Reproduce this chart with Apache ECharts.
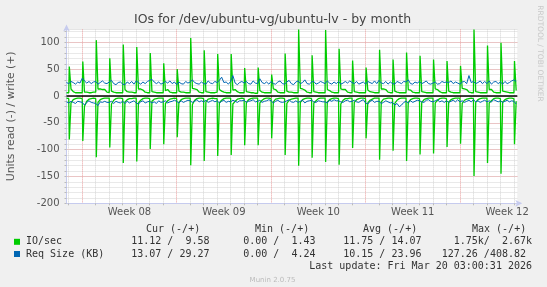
<!DOCTYPE html>
<html><head><meta charset="utf-8">
<script src="https://cdn.jsdelivr.net/npm/echarts@6/dist/echarts.min.js"></script>
<style>html,body{margin:0;padding:0;background:#f0f0f0}#c{width:547px;height:287px}</style>
</head><body><div id="c"></div>
<script>
// Hours relative to Mon 16 Mar 2026 00:00 (start of Week 12)
const hourMin = -700, hourMax = 102;
const sampleStart = -700, sampleStep = 4;
const spikeStart = -695, spikeStep = 24;
const weekLabels = ['Week 08', 'Week 09', 'Week 10', 'Week 11', 'Week 12'];
const weekLabelFirstHour = -588;
const yMin = -200, yMax = 124;

// IO/sec write (+), 4-hour samples
const ioWrite = [6,
 6,13,8,6,6,6, 6,7,7,6,6,7, 7,13,13,12,12,7, 6,9,7,6,6,6, 6,12,8,7,7,6, 6,13,13,11,7,6, 6,8,7,6,6,6,
 6,10,12,7,6,6, 6,9,7,7,6,6, 6,14,13,12,7,6, 6,8,7,6,6,6, 7,12,9,7,6,6, 6,11,12,8,6,6, 6,8,7,6,6,5,
 5,10,7,6,6,6, 6,13,12,7,6,6, 6,9,7,7,6,6, 6,14,13,11,7,6, 6,8,7,6,6,6, 6,12,10,7,6,6, 6,13,12,12,7,6,
 6,8,7,6,6,6, 6,11,8,7,6,6, 6,13,13,12,7,6, 6,9,7,6,6,6, 6,12,11,7,6,6, 6,8,7,6,6,6, 6,13,12,8,6,6,
 6,9,7,6,6,6, 6,14,13,12,7,6, 6,8,7,6,6,6, 6,12,12,7,6,6, 6,9,8,7,6,6,
 6,10];
// IO/sec read (-), 4-hour samples
const ioRead = [-4,
 -5,-13,-7,-5,-4,-4, -5,-19,-10,-6,-5,-4, -5,-12,-7,-5,-4,-4, -4,-15,-8,-5,-4,-4, -5,-11,-7,-5,-5,-4, -4,-13,-8,-5,-4,-4, -5,-10,-6,-5,-4,-4,
 -4,-14,-9,-6,-5,-4, -5,-12,-7,-5,-4,-4, -4,-16,-8,-5,-4,-4, -5,-11,-6,-5,-4,-5, -5,-13,-8,-5,-4,-4, -4,-15,-10,-6,-5,-4, -5,-12,-7,-5,-4,-4,
 -4,-13,-8,-5,-4,-4, -5,-11,-6,-5,-4,-4, -5,-14,-8,-6,-5,-4, -4,-12,-7,-5,-4,-4, -5,-13,-9,-5,-4,-4, -4,-11,-7,-5,-4,-4, -5,-15,-8,-5,-5,-4,
 -4,-12,-7,-5,-4,-4, -5,-13,-8,-6,-4,-4, -4,-11,-6,-5,-4,-4, -5,-14,-8,-5,-4,-4, -4,-12,-7,-5,-4,-4, -5,-12,-7,-5,-4,-4, -4,-13,-8,-5,-4,-4,
 -5,-11,-7,-5,-4,-4, -4,-14,-8,-6,-5,-4, -5,-12,-7,-5,-4,-4, -4,-13,-9,-5,-4,-4, -5,-11,-7,-5,-4,-4,
 -5,-10];
// daily IO/sec peaks (one per day, ~01:00)
const ioWriteSpikes = [55,64,104,70,96,91,80,61,50,108,85,78,78,52,53,40,79,124,76,123,88,66,53,86,68,81,75,68,65,56,124,94,99,65];
const ioReadSpikes = [-81,-84,-114,-96,-125,-122,-99,-90,-77,-129,-121,-112,-110,-92,-92,-79,-110,-130,-115,-123,-128,-97,-79,-119,-102,-121,-109,-107,-95,-89,-149,-125,-145,-90];
// Req Size (KB) write (+), 4-hour samples
const reqWrite = [25,
 23,27,25,22,26,24, 33,28,24,27,23,26, 27,22,25,28,24,23, 26,29,23,21,25,26, 22,21,26,23,27,22, 28,25,22,26,23,27, 29,31,26,23,26,22,
 24,27,24,28,23,26, 21,26,23,22,27,24, 26,30,25,23,22,26, 23,22,28,24,23,27, 25,29,35,25,26,22, 27,38,24,21,25,27, 24,27,23,22,28,24,
 23,32,25,23,26,22, 27,23,22,26,28,23, 22,26,29,23,21,26, 28,23,25,30,23,22, 26,27,22,24,27,25, 23,28,24,22,26,23, 27,22,24,27,24,28,
 25,23,27,22,24,26, 22,27,25,23,28,23, 29,24,23,27,22,26, 23,22,27,25,23,27, 26,30,23,22,26,24, 27,23,25,28,23,22, 24,26,22,23,27,25,
 26,25,28,23,26,24, 22,26,27,23,38,25, 27,23,25,28,23,27, 23,28,22,26,27,23, 26,22,27,23,25,28,
 30,27];
// Req Size (KB) read (-), 4-hour samples
const reqRead = [-11,
 -13,-10,-12,-14,-10,-11, -12,-17,-12,-9,-12,-13, -14,-18,-11,-12,-10,-12, -12,-10,-14,-10,-12,-13, -10,-14,-10,-13,-11,-9, -13,-15,-11,-9,-13,-11, -10,-13,-11,-14,-9,-12,
 -11,-9,-13,-11,-10,-8, -10,-13,-9,-12,-10,-8, -9,-12,-10,-7,-11,-9, -11,-8,-12,-10,-8,-11, -9,-13,-10,-8,-12,-10, -11,-8,-10,-12,-9,-9, -8,-12,-10,-9,-7,-11,
 -10,-8,-12,-10,-9,-7, -9,-13,-10,-8,-11,-12, -11,-9,-7,-11,-12,-9, -12,-10,-8,-13,-10,-9, -8,-11,-12,-9,-10,-11, -11,-13,-8,-10,-7,-9, -9,-11,-12,-9,-8,-11,
 -10,-8,-11,-12,-9,-7, -13,-15,-10,-8,-12,-10, -10,-14,-12,-9,-11,-13, -12,-17,-14,-20,-17,-12, -10,-13,-9,-12,-10,-8, -9,-11,-12,-8,-7,-10, -11,-9,-7,-11,-9,-12,
 -9,-12,-10,-8,-11,-7, -11,-9,-12,-10,-8,-11, -7,-11,-9,-12,-10,-8, -11,-9,-11,-7,-9,-11, -9,-12,-10,-8,-11,-9,
 -10,-15];

// legend statistics
const legendNames = ['IO/sec', 'Req Size (KB)'];
const legendColors = ['#00cc00', '#0066b3'];
const statHeaders = ['Cur (-/+)', 'Min (-/+)', 'Avg (-/+)', 'Max (-/+)'];
const statCur = ['11.12 /  9.58', '13.07 / 29.27'];
const statMin = ['0.00 /  1.43', '0.00 /  4.24'];
const statAvg = ['11.75 / 14.07', '10.15 / 23.96'];
const statMax = ['1.75k/  2.67k', '127.26 /408.82'];
const titleText = 'IOs for /dev/ubuntu-vg/ubuntu-lv - by month';
const yAxisTitle = 'Units read (-) / write (+)';
const lastUpdate = 'Last update: Fri Mar 20 03:00:31 2026';
const versionText = 'Munin 2.0.75';
const watermark = 'RRDTOOL / TOBI OETIKER';

function build(base, spikes) {
  const pts = base.map((v, i) => [sampleStart + i * sampleStep, v]);
  if (spikes) spikes.forEach((v, k) => pts.push([spikeStart + k * spikeStep, v]));
  pts.sort((a, b) => a[0] - b[0]);
  return pts;
}
const cats = [];
for (let h = hourMin; h <= hourMax; h++) cats.push(String(h));
const mod = (a, m) => ((a % m) + m) % m;

const MINOR = '#d2d2d2', MAJOR = '#eaa0a0', AXIS = '#c6cbee';
const F = '"DejaVu Sans", sans-serif', MONO = '"DejaVu Sans Mono", monospace';

const graphics = [
  {type:'text', x:272.5, y:20, style:{text:titleText, font:'12.5px ' + F, fill:'#444', align:'center', verticalAlign:'middle'}},
  {type:'text', x:540, y:53.5, rotation:-Math.PI/2, style:{text:watermark, font:'7.5px ' + F, fill:'#c8c8c8', align:'center', verticalAlign:'middle'}},
  {type:'text', x:532, y:266.2, style:{text:lastUpdate, font:'10px ' + MONO, fill:'#333', align:'right', verticalAlign:'middle'}},
  {type:'text', x:272.5, y:280, style:{text:versionText, font:'7px ' + F, fill:'#bbb', align:'center', verticalAlign:'middle'}}
];
const headerX = [146, 255, 363, 472];
statHeaders.forEach((t, i) => graphics.push({type:'text', x:headerX[i], y:229, style:{text:t, font:'10px ' + MONO, fill:'#333', align:'left', verticalAlign:'middle'}}));
const rowY = [241.8, 254];
legendNames.forEach((n, r) => {
  graphics.push({type:'rect', shape:{x:14, y:rowY[r]-3, width:6, height:6}, style:{fill:legendColors[r]}});
  graphics.push({type:'text', x:26, y:rowY[r], style:{text:n, font:'10px ' + MONO, fill:'#333', align:'left', verticalAlign:'middle'}});
  const cols = [[statCur[r], 209.5], [statMin[r], 315.5], [statAvg[r], 421.5], [statMax[r], r === 0 ? 532 : 526]];
  cols.forEach(c => graphics.push({type:'text', x:c[1], y:rowY[r], style:{text:c[0], font:'10px ' + MONO, fill:'#333', align:'right', verticalAlign:'middle'}}));
});

const lineSeries = (name, data, color, width, extra) => Object.assign({
  type:'line', name, data, xAxisIndex:0, yAxisIndex:0, symbol:'none', showSymbol:false,
  lineStyle:{width, color}, itemStyle:{color}, silent:true, animation:false
}, extra || {});

const option = {
  animation:false,
  backgroundColor:'#f0f0f0',
  grid:{left:66.5, right:29.7, top:29.4, bottom:83.7, show:true, backgroundColor:'#ffffff', borderWidth:0, outerBoundsMode:'none', containLabel:false},
  xAxis:[
    {type:'value', min:hourMin, max:hourMax, show:false},
    {type:'category', data:cats, boundaryGap:false, position:'bottom',
      axisLine:{show:true, onZero:false, lineStyle:{color:AXIS, width:1}, symbol:['none','arrow'], symbolSize:[5,7], symbolOffset:[0,5]},
      axisTick:{show:true, interval:(i, v) => mod(+v, 24) === 0 && mod(+v, 168) !== 0, length:2, lineStyle:{color:'#bbbbbb'}},
      axisLabel:{show:false},
      splitLine:{show:true, interval:(i, v) => mod(+v, 24) === 0 && mod(+v, 168) !== 0, lineStyle:{color:MINOR, type:'dotted', width:1}}},
    {type:'category', data:cats, boundaryGap:false, position:'bottom',
      axisLine:{show:false},
      axisTick:{show:true, interval:(i, v) => mod(+v, 168) === 0, length:2, lineStyle:{color:'#e06060'}},
      axisLabel:{show:true, interval:(i, v) => mod(+v, 168) === 84, formatter:(v) => weekLabels[(+v - weekLabelFirstHour) / 168] || '',
        fontSize:10, fontFamily:F, color:'#555', margin:4},
      splitLine:{show:true, interval:(i, v) => mod(+v, 168) === 0, lineStyle:{color:MAJOR, type:'dotted', width:1}}}
  ],
  yAxis:[
    {type:'value', min:yMin, max:yMax, interval:10, position:'left',
      axisLine:{show:true, onZero:false, lineStyle:{color:AXIS, width:1}, symbol:['none','arrow'], symbolSize:[5,7], symbolOffset:[0,5]},
      axisTick:{show:true, length:2, lineStyle:{color:'#bbbbbb'}},
      axisLabel:{show:false},
      splitLine:{show:true, lineStyle:{color:MINOR, type:'dotted', width:1}}},
    {type:'value', min:yMin, max:yMax, interval:50, position:'left',
      axisLine:{show:false}, axisTick:{show:false},
      axisLabel:{show:true, showMaxLabel:false, fontSize:10, fontFamily:F, color:'#555', margin:7},
      splitLine:{show:true, showMinLine:false, showMaxLine:false, lineStyle:{color:MAJOR, type:'dotted', width:1}},
      name:yAxisTitle, nameLocation:'middle', nameGap:50, nameRotate:90,
      nameTextStyle:{fontSize:10.8, fontFamily:F, color:'#555'}}
  ],
  series:[
    lineSeries('IO/sec read', build(ioRead, ioReadSpikes), '#00cc00', 1.3),
    lineSeries('IO/sec write', build(ioWrite, ioWriteSpikes), '#00cc00', 1.3),
    lineSeries('Req Size read', build(reqRead), '#0066b3', 1),
    lineSeries('Req Size write', build(reqWrite), '#0066b3', 1, {
      markLine:{silent:true, symbol:'none', label:{show:false}, animation:false,
        lineStyle:{color:'#000000', width:1.5, type:'solid'}, data:[{yAxis:0}]}
    })
  ],
  graphic:graphics
};
const chart = echarts.init(document.getElementById('c'), null, {renderer:'canvas'});
chart.setOption(option);
</script>
</body></html>
